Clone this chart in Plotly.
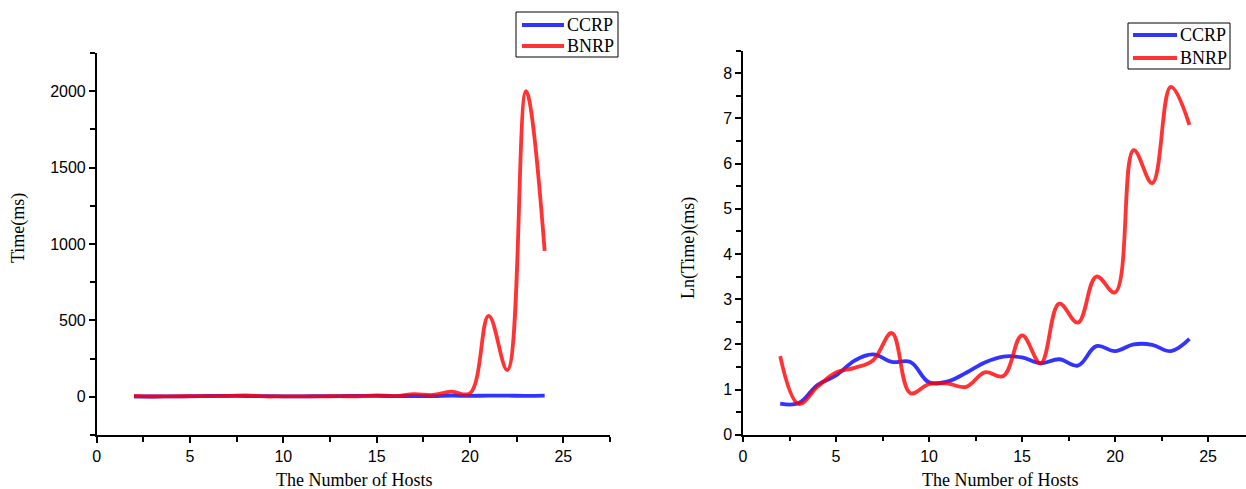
import plotly.graph_objects as go

# ---- data ----
hosts = list(range(2, 25))

# Left panel: raw time (ms)
ccrp_time = [2.0, 2.0, 3.0, 3.7, 5.2, 5.9, 5.0, 5.0, 3.2, 3.3, 3.9, 5.0,
             5.6, 5.5, 4.9, 5.3, 4.6, 7.1, 6.4, 7.4, 7.3, 6.4, 8.3]
bnrp_time = [5.7, 2.0, 2.9, 4.0, 4.5, 5.2, 9.5, 2.5, 3.0, 3.0, 2.9, 4.0,
             3.7, 9.0, 4.9, 18, 12, 34, 23, 530, 175, 2000, 955]

# Right panel: ln(time)
ccrp_ln = [0.69, 0.70, 1.10, 1.31, 1.64, 1.78, 1.61, 1.61, 1.16, 1.18, 1.37, 1.60,
           1.73, 1.71, 1.58, 1.67, 1.53, 1.96, 1.85, 2.00, 1.99, 1.85, 2.12]
bnrp_ln = [1.74, 0.68, 1.06, 1.38, 1.48, 1.65, 2.25, 0.92, 1.12, 1.13, 1.06, 1.38,
           1.30, 2.20, 1.58, 2.90, 2.48, 3.50, 3.15, 6.30, 5.57, 7.70, 6.86]

series_names = ["CCRP", "BNRP"]
blue = "rgba(0,0,255,0.8)"
red = "rgba(255,0,0,0.8)"
series_colors = [blue, red]

W, H = 1246, 489
serif = "Liberation Serif, Times New Roman, serif"
sans = "Liberation Sans, Arial, sans-serif"

fig = go.Figure()

line_w = 3.8
sm = 1.1
fig.add_trace(go.Scatter(x=hosts, y=ccrp_time, name=series_names[0], mode="lines",
                         line=dict(color=blue, width=line_w, shape="spline", smoothing=sm),
                         xaxis="x", yaxis="y", showlegend=False))
fig.add_trace(go.Scatter(x=hosts, y=bnrp_time, name=series_names[1], mode="lines",
                         line=dict(color=red, width=line_w, shape="spline", smoothing=sm),
                         xaxis="x", yaxis="y", showlegend=False))
fig.add_trace(go.Scatter(x=hosts, y=ccrp_ln, name=series_names[0], mode="lines",
                         line=dict(color=blue, width=line_w, shape="spline", smoothing=sm),
                         xaxis="x2", yaxis="y2", showlegend=False))
fig.add_trace(go.Scatter(x=hosts, y=bnrp_ln, name=series_names[1], mode="lines",
                         line=dict(color=red, width=line_w, shape="spline", smoothing=sm),
                         xaxis="x2", yaxis="y2", showlegend=False))

def px_x(p):
    return p / W

def px_y(p):
    return (H - p) / H

axis_common = dict(
    showline=True, linecolor="black", linewidth=1.5,
    ticks="outside", ticklen=6, tickwidth=1.5, tickcolor="black",
    showgrid=False, zeroline=False, mirror=False, automargin=False,
    tickfont=dict(family=sans, size=16, color="black"),
)

fig.update_layout(
    width=W, height=H,
    margin=dict(l=0, r=0, t=0, b=0, autoexpand=False),
    paper_bgcolor="white", plot_bgcolor="white",
    showlegend=False,
    xaxis=dict(axis_common, domain=[px_x(96.7), px_x(610)], range=[0, 27.5],
               tickvals=[0, 5, 10, 15, 20, 25],
               minor=dict(ticks="outside", ticklen=5, tickwidth=1.5, tickcolor="black",
                          tickvals=[2.5, 7.5, 12.5, 17.5, 22.5, 27.5]),
               anchor="y"),
    yaxis=dict(axis_common, domain=[px_y(435), px_y(53)], range=[-250, 2250],
               tickvals=[0, 500, 1000, 1500, 2000],
               minor=dict(ticks="outside", ticklen=5, tickwidth=1.5, tickcolor="black",
                          tickvals=[-250, 250, 750, 1250, 1750, 2250]),
               anchor="x"),
    xaxis2=dict(axis_common, domain=[px_x(743), 1.0], range=[0, 27.04],
                tickvals=[0, 5, 10, 15, 20, 25],
                minor=dict(ticks="outside", ticklen=5, tickwidth=1.5, tickcolor="black",
                           tickvals=[2.5, 7.5, 12.5, 17.5, 22.5]),
                anchor="y2"),
    yaxis2=dict(axis_common, domain=[px_y(434.7), px_y(50.7)], range=[0, 8.5],
                tickvals=[0, 1, 2, 3, 4, 5, 6, 7, 8],
                minor=dict(ticks="outside", ticklen=5, tickwidth=1.5, tickcolor="black",
                           tickvals=[0.5, 1.5, 2.5, 3.5, 4.5, 5.5, 6.5, 7.5, 8.5]),
                anchor="x2"),
)

# Axis titles
title_font = dict(family=serif, size=18, color="black")
annos = [
    dict(text="The Number of Hosts", x=px_x(354), y=px_y(480)),
    dict(text="The Number of Hosts", x=px_x(1000), y=px_y(480)),
    dict(text="Time(ms)", x=px_x(18), y=px_y(228), textangle=-90),
    dict(text="Ln(Time)(ms)", x=px_x(688), y=px_y(248), textangle=-90),
]
for a in annos:
    fig.add_annotation(xref="paper", yref="paper", showarrow=False,
                       xanchor="center", yanchor="middle", font=title_font, **a)

# Legend boxes (one per panel), drawn in paper coordinates
legend_font = dict(family=serif, size=18, color="black")
legend_boxes = [
    # (box x0, box x1, box top, box bottom, line x0, line x1, item y's)
    (516, 618, 12, 57, 522, 564, [25, 46]),
    (1128, 1230, 23, 69, 1133, 1177, [35, 58]),
]
for bx0, bx1, bt, bb, lx0, lx1, ys in legend_boxes:
    fig.add_shape(type="rect", xref="paper", yref="paper",
                  x0=px_x(bx0), x1=px_x(bx1), y0=px_y(bb), y1=px_y(bt),
                  line=dict(color="black", width=1), fillcolor="white", layer="above")
    for name, col, yy in zip(series_names, series_colors, ys):
        fig.add_shape(type="line", xref="paper", yref="paper",
                      x0=px_x(lx0), x1=px_x(lx1), y0=px_y(yy), y1=px_y(yy),
                      line=dict(color=col, width=4), layer="above")
        fig.add_annotation(xref="paper", yref="paper", showarrow=False,
                           x=px_x(lx1 + 1), y=px_y(yy), xanchor="left", yanchor="middle",
                           text=name, font=legend_font)

fig.write_html("out.html", config={"displayModeBar": False},
               post_script="document.body.style.margin='0';")
